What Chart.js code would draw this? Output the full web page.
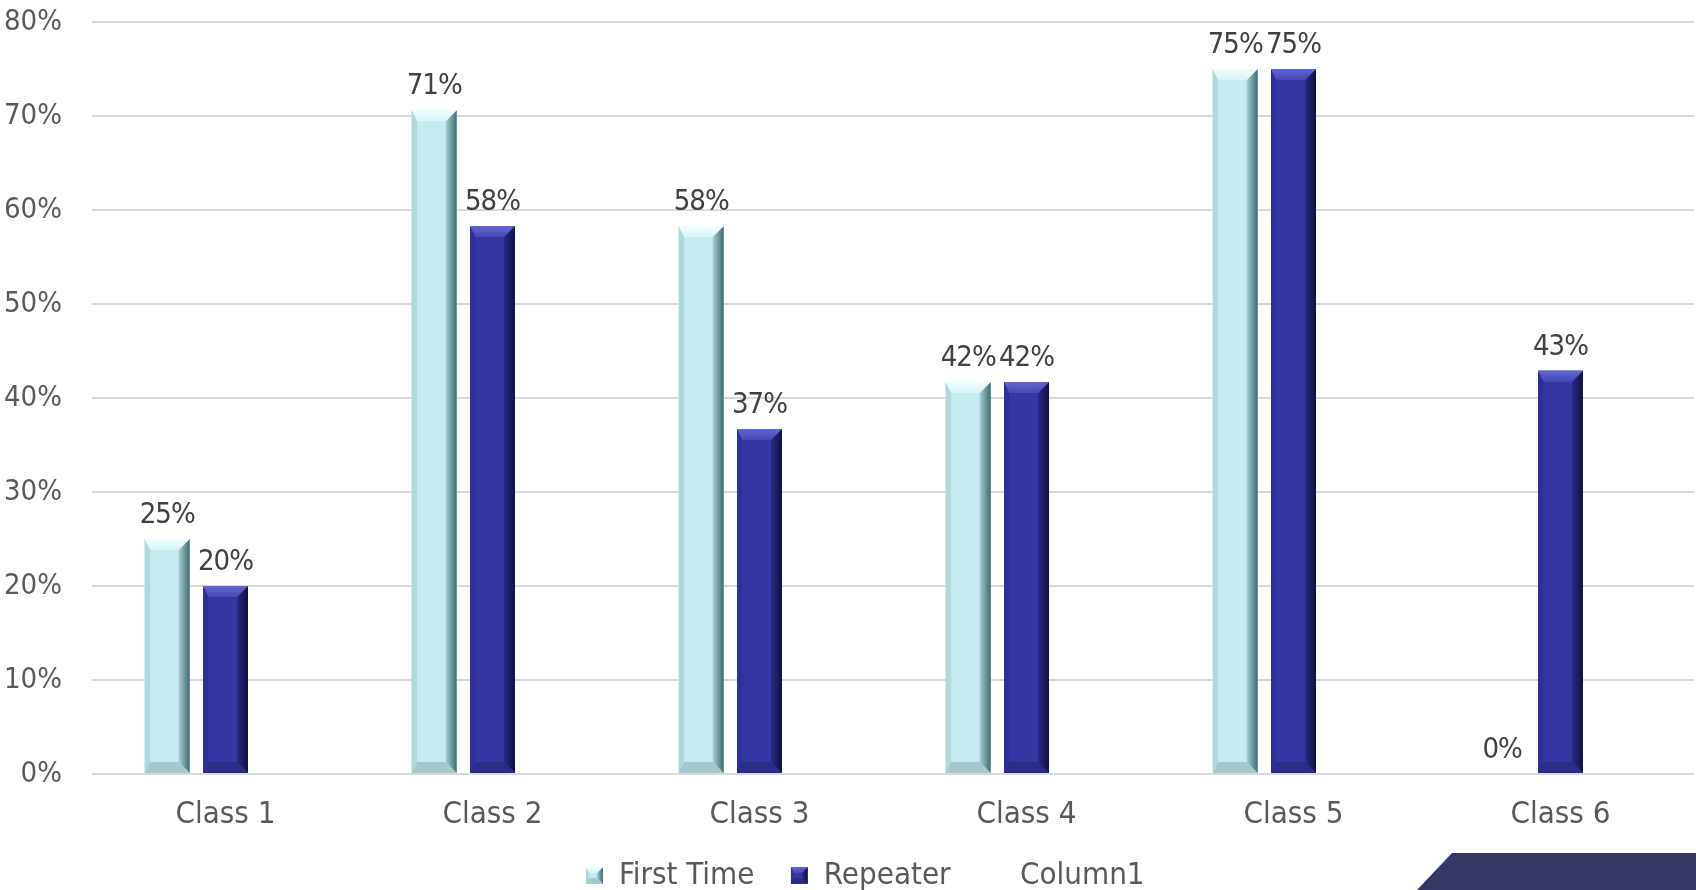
<!DOCTYPE html>
<html>
<head>
<meta charset="utf-8">
<title>First Time vs Repeater</title>
<script src="https://cdn.jsdelivr.net/npm/chart.js@4.4.1/dist/chart.umd.min.js"></script>
<style>
    html, body { margin: 0; padding: 0; background: #ffffff; }
    #wrap { position: relative; width: 1696px; height: 890px; overflow: hidden; }
    /* slide decoration bottom right */
    #corner {
        position: absolute; left: 1417px; top: 853px; width: 279px; height: 37px;
        background: #363664;
        clip-path: polygon(35px 0, 100% 0, 100% 100%, 0 100%);
    }
</style>
</head>
<body>
<div id="wrap">
    <canvas id="barChart"></canvas>
    <div id="corner"></div>
</div>
<script>
//chart data
var gClassLabels = ["Class 1", "Class 2", "Class 3", "Class 4", "Class 5", "Class 6"];
var gFirstTime = [25, 70.6, 58.3, 41.7, 75, 0];
var gRepeater = [20, 58.3, 36.7, 41.7, 75, 42.9];
var gColumn1 = [null, null, null, null, null, null];
var gSeriesNames = ["First Time", "Repeater", "Column1"];
var gTickMax = 80;
var gTickStep = 10;

var gFont = "'Liberation Sans Narrow', 'DejaVu Sans Condensed', 'Noto Sans', sans-serif";
var gFontSize = 31;
var gValueFontSize = 29;

//bevel colours for the 3d look of the bars
var gLightTheme = {
    base: "#c4ebee", top1: "#f2fefe", top2: "#d6f4f6", left: "#b1d9dc",
    right1: "#a6d0d3", right2: "#3f6b6e", bottom: "#a3c9cc"
};
var gDarkTheme = {
    base: "#3636a3", top1: "#6464d2", top2: "#4747b6", left: "#2f2f98",
    right1: "#2a2a86", right2: "#101040", bottom: "#2b2b88"
};

//draw one bevelled bar
function drawBevelBar(pCtx, pLeft, pTop, pRight, pBottom, pTheme, pBevel) {
    var vB = Math.min(pBevel, (pRight - pLeft) / 2, (pBottom - pTop) / 2);
    pCtx.fillStyle = pTheme.base;
    pCtx.fillRect(pLeft, pTop, pRight - pLeft, pBottom - pTop);

    //left side
    pCtx.fillStyle = pTheme.left;
    pCtx.beginPath();
    pCtx.moveTo(pLeft, pTop);
    pCtx.lineTo(pLeft + vB * 0.5, pTop + vB);
    pCtx.lineTo(pLeft + vB * 0.5, pBottom - vB);
    pCtx.lineTo(pLeft, pBottom);
    pCtx.closePath();
    pCtx.fill();

    //right side
    var vRightGrad = pCtx.createLinearGradient(pRight - vB, 0, pRight, 0);
    vRightGrad.addColorStop(0, pTheme.right1);
    vRightGrad.addColorStop(1, pTheme.right2);
    pCtx.fillStyle = vRightGrad;
    pCtx.beginPath();
    pCtx.moveTo(pRight, pTop);
    pCtx.lineTo(pRight, pBottom);
    pCtx.lineTo(pRight - vB, pBottom - vB);
    pCtx.lineTo(pRight - vB, pTop + vB);
    pCtx.closePath();
    pCtx.fill();

    //top
    var vTopGrad = pCtx.createLinearGradient(0, pTop, 0, pTop + vB);
    vTopGrad.addColorStop(0, pTheme.top1);
    vTopGrad.addColorStop(1, pTheme.top2);
    pCtx.fillStyle = vTopGrad;
    pCtx.beginPath();
    pCtx.moveTo(pLeft, pTop);
    pCtx.lineTo(pRight, pTop);
    pCtx.lineTo(pRight - vB, pTop + vB);
    pCtx.lineTo(pLeft + vB * 0.5, pTop + vB);
    pCtx.closePath();
    pCtx.fill();

    //bottom
    pCtx.fillStyle = pTheme.bottom;
    pCtx.beginPath();
    pCtx.moveTo(pLeft, pBottom);
    pCtx.lineTo(pRight, pBottom);
    pCtx.lineTo(pRight - vB, pBottom - vB);
    pCtx.lineTo(pLeft + vB * 0.5, pBottom - vB);
    pCtx.closePath();
    pCtx.fill();
}

//legend icons: small bevelled square at the right end of a wider canvas
function makeLegendIcon(pTheme, pWidth) {
    var vCanvas = document.createElement("canvas");
    vCanvas.width = pWidth;
    vCanvas.height = 17;
    if (pTheme) {
        drawBevelBar(vCanvas.getContext("2d"), pWidth - 24, 0, pWidth - 7, 17, pTheme, 6);
    }
    return vCanvas;
}
var gLegendIcons = [
    makeLegendIcon(gLightTheme, 67),
    makeLegendIcon(gDarkTheme, 67),
    makeLegendIcon(null, 67)
];

//plugin: paint the bevel over bars
var gBevelPlugin = {
    id: "bevelBars",
    afterDatasetsDraw: function (chart) {
        var vCtx = chart.ctx;
        var vThemes = [gLightTheme, gDarkTheme];
        vCtx.save();
        for (var i = 0; i < 2; i++) {
            var vMeta = chart.getDatasetMeta(i);
            vMeta.data.forEach(function (bar) {
                var vHalf = bar.width / 2;
                if (Math.abs(bar.base - bar.y) < 1) return;
                drawBevelBar(vCtx, bar.x - vHalf, bar.y, bar.x + vHalf, bar.base, vThemes[i], 11);
            });
        }
        vCtx.restore();
    }
};

//plugin: value labels above the bars
var gValueLabelPlugin = {
    id: "valueLabels",
    afterDatasetsDraw: function (chart) {
        var vCtx = chart.ctx;
        vCtx.save();
        vCtx.font = gValueFontSize + "px " + gFont;
        vCtx.fillStyle = "#404040";
        vCtx.textAlign = "center";
        vCtx.textBaseline = "alphabetic";
        if ("letterSpacing" in vCtx) vCtx.letterSpacing = "-1px";
        for (var i = 0; i < 2; i++) {
            var vMeta = chart.getDatasetMeta(i);
            var vData = chart.data.datasets[i].data;
            vMeta.data.forEach(function (bar, j) {
                if (vData[j] === null) return;
                vCtx.fillText(Math.round(vData[j]) + "%", bar.x, bar.y - 16);
            });
        }
        vCtx.restore();
    }
};

function drawBarChart() {
    var vCanvas = document.getElementById("barChart");
    var vFont = { family: gFont, size: gFontSize };

    new Chart(vCanvas.getContext("2d"), {
        type: "bar",
        data: {
            labels: gClassLabels,
            datasets: [
                { label: gSeriesNames[0], data: gFirstTime, backgroundColor: gLightTheme.base },
                { label: gSeriesNames[1], data: gRepeater, backgroundColor: gDarkTheme.base },
                { label: gSeriesNames[2], data: gColumn1, backgroundColor: "rgba(0,0,0,0)" }
            ]
        },
        options: {
            responsive: true,
            maintainAspectRatio: false,
            animation: false,
            categoryPercentage: 0.655,
            barPercentage: 0.772,
            layout: { padding: { top: 22, right: 2, left: 0, bottom: -11 } },
            scales: {
                x: {
                    grid: { display: false },
                    border: { display: false },
                    ticks: { color: "#595959", font: vFont, padding: 14 },
                    afterFit: function (scale) { scale.height = 86; }
                },
                y: {
                    min: 0,
                    max: gTickMax,
                    grid: { color: "#d9d9d9", lineWidth: 2, drawTicks: false },
                    border: { display: false },
                    ticks: {
                        stepSize: gTickStep,
                        color: "#595959",
                        font: { family: gFont, size: 29 },
                        padding: 30,
                        callback: function (value) { return value + "%"; }
                    },
                    afterFit: function (scale) {
                        scale.width = 92;
                        scale.paddingTop = 0;
                        scale.paddingBottom = 0;
                    }
                }
            },
            plugins: {
                tooltip: { enabled: false },
                legend: {
                    position: "bottom",
                    labels: {
                        usePointStyle: true,
                        pointStyleWidth: 54,
                        padding: 0,
                        color: "#595959",
                        font: vFont,
                        generateLabels: function (chart) {
                            var vItems = Chart.defaults.plugins.legend.labels.generateLabels(chart);
                            vItems.forEach(function (item, i) {
                                item.pointStyle = gLegendIcons[i];
                            });
                            return vItems;
                        }
                    }
                }
            }
        },
        plugins: [gBevelPlugin, gValueLabelPlugin]
    });
}

drawBarChart();
</script>
</body>
</html>
